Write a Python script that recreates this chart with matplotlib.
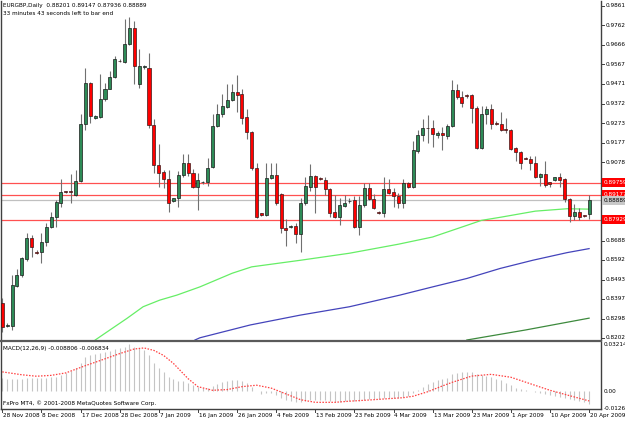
import matplotlib
matplotlib.use("Agg")
import matplotlib.pyplot as plt
from matplotlib import font_manager
from matplotlib.lines import Line2D
from matplotlib.transforms import blended_transform_factory
import numpy as np

# ---- data (EURGBP daily) ----
opens = [0.8376, 0.8264, 0.8262, 0.8461, 0.8515, 0.8595, 0.8700, 0.8632, 0.8630, 0.8680,
         0.8754, 0.8804, 0.8874, 0.8936, 0.8933, 0.8918, 0.8983, 0.9271, 0.9476, 0.9301,
         0.9306, 0.9396, 0.9446, 0.9506, 0.9585, 0.9580, 0.9670, 0.9749, 0.9471, 0.9555,
         0.9550, 0.9266, 0.9063, 0.9028, 0.8993, 0.8884, 0.8899, 0.9013, 0.9073, 0.9023,
         0.8953, 0.8978, 0.8978, 0.9053, 0.9261, 0.9321, 0.9356, 0.9391, 0.9431, 0.9421,
         0.9306, 0.9231, 0.9048, 0.8824, 0.8814, 0.8998, 0.9013, 0.8923, 0.8749, 0.8756,
         0.8759, 0.8719, 0.8874, 0.8953, 0.9008, 0.8998, 0.8988, 0.8943, 0.8829, 0.8804,
         0.8859, 0.8884, 0.8889, 0.8754, 0.8864, 0.8948, 0.8894, 0.8829, 0.8824, 0.8943,
         0.8933, 0.8913, 0.8874, 0.8973, 0.8953, 0.9137, 0.9216, 0.9251, 0.9251, 0.9216,
         0.9226, 0.9211, 0.9261, 0.9441, 0.9406, 0.9413, 0.9416, 0.9351, 0.9152, 0.9321,
         0.9346, 0.9276, 0.9271, 0.9246, 0.9241, 0.9152, 0.9132, 0.9098, 0.9093, 0.9073,
         0.9003, 0.9018, 0.8978, 0.8988, 0.9003, 0.8993, 0.8894, 0.8809, 0.8829, 0.8814,
         0.88201]
highs = [0.8401, 0.8277, 0.8515, 0.8545, 0.8605, 0.8724, 0.8714, 0.8640, 0.8724, 0.8774,
         0.8829, 0.8889, 0.8993, 0.8938, 0.9018, 0.9038, 0.9321, 0.9550, 0.9481, 0.9316,
         0.9520, 0.9476, 0.9535, 0.9610, 0.9595, 0.9794, 0.9804, 0.9784, 0.9645, 0.9565,
         0.9625, 0.9296, 0.9172, 0.9038, 0.9038, 0.8901, 0.9033, 0.9122, 0.9122, 0.9043,
         0.9023, 0.8984, 0.9098, 0.9321, 0.9371, 0.9421, 0.9471, 0.9471, 0.9515, 0.9446,
         0.9346, 0.9236, 0.9073, 0.8827, 0.9073, 0.9073, 0.9073, 0.8928, 0.8794, 0.8764,
         0.8774, 0.8899, 0.9003, 0.9068, 0.9013, 0.9003, 0.9003, 0.8948, 0.8918, 0.8903,
         0.8918, 0.8899, 0.8913, 0.8913, 0.8973, 0.8973, 0.8923, 0.8834, 0.9003, 0.8993,
         0.8948, 0.8928, 0.8993, 0.8978, 0.9187, 0.9241, 0.9296, 0.9316, 0.9291, 0.9236,
         0.9256, 0.9271, 0.9491, 0.9471, 0.9436, 0.9421, 0.9421, 0.9361, 0.9361, 0.9361,
         0.9371, 0.9286, 0.9331, 0.9301, 0.9246, 0.9157, 0.9137, 0.9103, 0.9108, 0.9108,
         0.9023, 0.9083, 0.8981, 0.9005, 0.9023, 0.8998, 0.8899, 0.8869, 0.8849, 0.8816,
         0.89147]
lows = [0.8232, 0.8257, 0.8242, 0.8456, 0.8505, 0.8585, 0.8605, 0.8620, 0.8575, 0.8660,
        0.8749, 0.8754, 0.8854, 0.8928, 0.8874, 0.8913, 0.8978, 0.9241, 0.9276, 0.9296,
        0.9301, 0.9386, 0.9443, 0.9501, 0.9580, 0.9575, 0.9665, 0.9471, 0.9451, 0.9545,
        0.9251, 0.9023, 0.8953, 0.8948, 0.8829, 0.8879, 0.8854, 0.9003, 0.9008, 0.8948,
        0.8839, 0.8971, 0.8958, 0.9048, 0.9256, 0.9306, 0.9351, 0.9386, 0.9331, 0.9271,
        0.9197, 0.9038, 0.8799, 0.8811, 0.8809, 0.8993, 0.8864, 0.8724, 0.8660, 0.8749,
        0.8675, 0.8630, 0.8864, 0.8938, 0.8824, 0.8988, 0.8918, 0.8804, 0.8799, 0.8764,
        0.8854, 0.8874, 0.8749, 0.8714, 0.8854, 0.8889, 0.8844, 0.8819, 0.8804, 0.8923,
        0.8854, 0.8849, 0.8849, 0.8950, 0.8950, 0.9127, 0.9187, 0.9177, 0.9157, 0.9202,
        0.9142, 0.9197, 0.9256, 0.9396, 0.9356, 0.9401, 0.9276, 0.9147, 0.9147, 0.9271,
        0.9246, 0.9266, 0.9236, 0.9226, 0.9142, 0.9083, 0.9043, 0.9093, 0.9038, 0.8998,
        0.8958, 0.8953, 0.8953, 0.8986, 0.8953, 0.8879, 0.8779, 0.8789, 0.8789, 0.8804,
        0.87936]
closes = [0.8257, 0.8267, 0.8466, 0.8515, 0.8600, 0.8700, 0.8655, 0.8627, 0.8680, 0.8754,
          0.8804, 0.8879, 0.8933, 0.8931, 0.8932, 0.8983, 0.9271, 0.9476, 0.9311, 0.9311,
          0.9396, 0.9446, 0.9506, 0.9595, 0.9583, 0.9670, 0.9749, 0.9560, 0.9560, 0.9557,
          0.9266, 0.9063, 0.9023, 0.8993, 0.8874, 0.8899, 0.9013, 0.9073, 0.9023, 0.8953,
          0.8988, 0.8981, 0.9048, 0.9261, 0.9321, 0.9361, 0.9391, 0.9431, 0.9416, 0.9301,
          0.9231, 0.9048, 0.8804, 0.8814, 0.8998, 0.9013, 0.8874, 0.8749, 0.8739, 0.8759,
          0.8719, 0.8874, 0.8958, 0.9008, 0.8953, 0.8993, 0.8943, 0.8824, 0.8804, 0.8864,
          0.8874, 0.8886, 0.8754, 0.8864, 0.8948, 0.8894, 0.8849, 0.8824, 0.8943, 0.8928,
          0.8913, 0.8874, 0.8973, 0.8953, 0.9142, 0.9216, 0.9251, 0.9250, 0.9221, 0.9226,
          0.9216, 0.9261, 0.9441, 0.9406, 0.9376, 0.9411, 0.9351, 0.9152, 0.9321, 0.9346,
          0.9271, 0.9271, 0.9241, 0.9241, 0.9147, 0.9132, 0.9073, 0.9096, 0.9073, 0.9003,
          0.9018, 0.8963, 0.8968, 0.9003, 0.8988, 0.8894, 0.8809, 0.8829, 0.8804, 0.8809,
          0.88889]

# moving averages (bar index, price)
ma_fast_idx = [19, 22, 25.5, 28.8, 32.2, 35.7, 40.4, 47, 51, 61, 71, 81, 88, 95, 98, 102, 109, 115.5, 120]
ma_fast_val = [0.8192, 0.8242, 0.8300, 0.8358, 0.8391, 0.8416, 0.8457, 0.8525, 0.8557, 0.8590,
               0.8625, 0.8670, 0.8706, 0.8764, 0.8789, 0.8805, 0.8835, 0.8847, 0.8845]
ma_mid_idx = [39.4, 40.4, 50.7, 60.9, 71, 81.3, 88, 95, 101.8, 108.5, 115.5, 120]
ma_mid_val = [0.8192, 0.8203, 0.8267, 0.8316, 0.8358, 0.8416, 0.8457, 0.8499, 0.8549, 0.8590, 0.8628, 0.8648]
ma_slow_idx = [95, 107, 120]
ma_slow_val = [0.8192, 0.8242, 0.8301]

# MACD main (histogram) per bar
macd_main = [0.0088, 0.0085, 0.0084, 0.0084, 0.0085, 0.0088, 0.0089, 0.0088, 0.0088, 0.0091,
             0.0095, 0.0100, 0.0110, 0.0125, 0.0140, 0.0160, 0.0195, 0.0235, 0.0245, 0.0252,
             0.0262, 0.0270, 0.0278, 0.0287, 0.0295, 0.0305, 0.032143, 0.0305, 0.0295, 0.0285,
             0.0245, 0.0195, 0.0160, 0.0130, 0.0100, 0.0080, 0.0072, 0.0066, 0.0055, 0.0040,
             0.0028, 0.0020, 0.0020, 0.0035, 0.0050, 0.0062, 0.0070, 0.0074, 0.0075, 0.0066,
             0.0052, 0.0030, 0.0002, -0.0018, -0.0015, -0.0012, -0.0030, -0.0048, -0.0062, -0.0070,
             -0.0078, -0.0074, -0.0068, -0.0062, -0.0062, -0.0062, -0.0065, -0.0072, -0.0076, -0.0073,
             -0.0070, -0.0067, -0.0071, -0.0068, -0.0062, -0.0058, -0.0058, -0.0058, -0.0050, -0.0047,
             -0.0045, -0.0045, -0.0038, -0.0035, -0.0015, 0.0008, 0.0030, 0.0048, 0.0065, 0.0076,
             0.0084, 0.0093, 0.0115, 0.0125, 0.0130, 0.0131, 0.0129, 0.0118, 0.0113, 0.0106,
             0.0096, 0.0085, 0.0073, 0.0058, 0.0040, 0.0024, 0.0012, 0.0006, 0.0002, -0.0008,
             -0.0016, -0.0022, -0.0028, -0.0034, -0.0040, -0.0048, -0.0056, -0.0061, -0.0067, -0.0073,
             -0.008806]
signal_idx = [0, 4, 7, 10, 13, 17, 20, 24, 27, 29, 31, 33, 35, 38, 40, 43, 46, 49, 52, 55,
              58, 61, 64, 68, 71, 75, 78, 82, 84, 87, 90, 92, 96, 100, 104, 108, 112, 116, 120]
signal_val = [0.0132, 0.0112, 0.0102, 0.0108, 0.0125, 0.0175, 0.0210, 0.0258, 0.0290, 0.0297,
              0.0280, 0.0245, 0.0190, 0.0085, 0.0030, 0.0005, 0.0010, 0.0030, 0.0040, 0.0020,
              -0.0020, -0.0060, -0.0078, -0.0078, -0.0070, -0.0062, -0.0055, -0.0046, -0.0036, -0.0005,
              0.0035, 0.0060, 0.0103, 0.0115, 0.0095, 0.0050, 0.0005, -0.0032, -0.006834]

price_ticks = [0.98610, 0.97620, 0.96660, 0.95670, 0.94710, 0.93720, 0.92730, 0.91770,
               0.90780, 0.86880, 0.85920, 0.84930, 0.83970, 0.82980, 0.82020]
red_levels = [0.89759, 0.89177, 0.87929]
bid_price = 0.88889

date_labels = ["28 Nov 2008", "8 Dec 2008", "17 Dec 2008", "28 Dec 2008", "7 Jan 2009",
               "16 Jan 2009", "26 Jan 2009", "4 Feb 2009", "13 Feb 2009", "23 Feb 2009",
               "4 Mar 2009", "13 Mar 2009", "23 Mar 2009", "1 Apr 2009", "10 Apr 2009",
               "20 Apr 2009"]
date_step = 8  # one label every 8 bars

title1 = "EURGBP,Daily  0.88201 0.89147 0.87936 0.88889"
title2 = "33 minutes 43 seconds left to bar end"
macd_title = "MACD(12,26,9) -0.008806 -0.006834"
footer = "FxPro MT4, \u00a9 2001-2008 MetaQuotes Software Corp."

# pick a narrow font if one is installed, else shrink a normal one
names = {f.name for f in font_manager.fontManager.ttflist}
if "Liberation Sans Narrow" in names:
    plt.rcParams['font.family'] = ['Liberation Sans Narrow', 'DejaVu Sans']
    FS = 5.4
elif any(f.name == "DejaVu Sans" and f.stretch == "condensed" for f in font_manager.fontManager.ttflist):
    plt.rcParams['font.family'] = ['DejaVu Sans']
    plt.rcParams['font.stretch'] = 'condensed'
    FS = 4.6
else:
    plt.rcParams['font.family'] = ['Liberation Sans', 'DejaVu Sans']
    FS = 4.3

# ---- layout (pixels of a 625x422 picture) ----
W, H = 625, 422
axis_col = "#404040"


def fx(px):
    return px / W


def fy(py):
    return 1 - py / H


fig = plt.figure(figsize=(6.25, 4.22), dpi=100)
fig.patch.set_facecolor("white")

n = len(opens)
idx = np.arange(n)
o = np.array(opens)
c = np.array(closes)
hi = np.array(highs)
lo = np.array(lows)
xlim = ((1 - 2.3) / 4.89, (601 - 2.3) / 4.89)

ax = fig.add_axes([fx(1), fy(340), fx(600), 339 / H])
ax.set_xlim(*xlim)
ax.set_ylim(0.81920, 0.98836)
ax.set_xticks([])
ax.set_yticks([])
for s in ["top", "bottom"]:
    ax.spines[s].set_visible(False)
for s in ["left", "right"]:
    ax.spines[s].set_color(axis_col)
    ax.spines[s].set_linewidth(1.0)

# level lines
for lv in red_levels:
    ax.axhline(lv, color="#ff5050", lw=0.9, zorder=1)
ax.axhline(bid_price, color="#c0c0c0", lw=0.9, zorder=1)

# moving averages
ax.plot(ma_fast_idx, ma_fast_val, color="#66ee66", lw=0.9, zorder=2)
ax.plot(ma_mid_idx, ma_mid_val, color="#4444bb", lw=0.9, zorder=2)
ax.plot(ma_slow_idx, ma_slow_val, color="#3d8a3d", lw=0.9, zorder=2)

# candles
ax.vlines(idx, lo, hi, color="#707070", lw=0.8, zorder=3)
up = c >= o
body_lo = np.minimum(o, c)
body_h = np.maximum(np.abs(c - o), 0.00012)
ax.bar(idx[up], body_h[up], bottom=body_lo[up], width=0.62, color="#2e8b57",
       edgecolor="#1a1a1a", linewidth=0.5, zorder=4)
ax.bar(idx[~up], body_h[~up], bottom=body_lo[~up], width=0.62, color="#ff0000",
       edgecolor="#3a1a1a", linewidth=0.5, zorder=4)

# right-hand price scale
tr = blended_transform_factory(ax.transAxes, ax.transData)
tick_dx = 3 / 600
for p in price_ticks:
    ax.plot([1, 1 + tick_dx], [p, p], color=axis_col, lw=0.7, transform=tr, clip_on=False)
    ax.text(1 + 5 / 600, p, f"{p:.5f}", transform=tr, fontsize=FS, va="center",
            ha="left", color="black", clip_on=False)
for lv in red_levels:
    ax.text(1 + 3 / 600, lv, f"{lv:.5f}", transform=tr, fontsize=FS, va="center",
            ha="left", color="white", clip_on=False,
            bbox=dict(boxstyle="square,pad=0.3", fc="#ff0000", ec="none"))
ax.text(1 + 3 / 600, bid_price, f"{bid_price:.5f}", transform=tr, fontsize=FS,
        va="center", ha="left", color="black", clip_on=False,
        bbox=dict(boxstyle="square,pad=0.3", fc="#c8c8c8", ec="none"))

# MACD window
axm = fig.add_axes([fx(1), fy(409), fx(600), (409 - 342) / H])
axm.set_xlim(*xlim)
axm.set_ylim(-0.0124, 0.0338)
axm.set_xticks([])
axm.set_yticks([])
axm.spines["top"].set_visible(False)
for s in ["left", "right", "bottom"]:
    axm.spines[s].set_color(axis_col)
    axm.spines[s].set_linewidth(1.0)
axm.vlines(idx, 0, macd_main, color="#c4c4c4", lw=0.8)
axm.plot(signal_idx, signal_val, color="#ff4040", lw=0.9, ls=(0, (1.2, 1.2)))

trm = blended_transform_factory(axm.transAxes, axm.transData)
axm.text(1 + 3 / 600, 0.0, "0.00", transform=trm, fontsize=FS, va="center", ha="left",
         clip_on=False)
axm.text(1 + 3 / 600, 1.0, "0.032143", transform=axm.transAxes, fontsize=FS, va="top",
         ha="left", clip_on=False)
axm.text(1 + 3 / 600, 0.0, "-0.012658", transform=axm.transAxes, fontsize=FS,
         va="center", ha="left", clip_on=False)

# panel separator
fig.add_artist(Line2D([fx(0), fx(601)], [fy(341), fy(341)], color="#5a5a5a", lw=1.6))

# texts
fig.text(fx(3), fy(5.5), title1, fontsize=FS, va="center", ha="left")
fig.text(fx(3), fy(13.5), title2, fontsize=FS, va="center", ha="left")
fig.text(fx(3), fy(348.5), macd_title, fontsize=FS, va="center", ha="left")
fig.text(fx(3), fy(403), footer, fontsize=FS, va="center", ha="left")

# date scale
for k, lab in enumerate(date_labels):
    bar = k * date_step
    xpix = ax.transData.transform((bar, 0))[0]
    fig.add_artist(Line2D([xpix / W, xpix / W], [fy(409), fy(412)], color=axis_col, lw=0.7))
    fig.text((xpix + 1) / W, fy(415.5), lab, fontsize=FS, va="center", ha="left")

fig.savefig("out.png", dpi=100)
